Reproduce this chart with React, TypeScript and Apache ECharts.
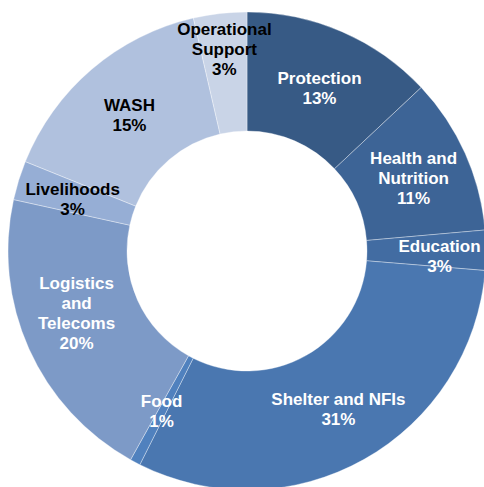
import React, { useEffect, useRef } from "react";
import * as echarts from "echarts";

const categories = [
  "Protection",
  "Health and\nNutrition",
  "Education",
  "Shelter and NFIs",
  "Food",
  "Logistics\nand\nTelecoms",
  "Livelihoods",
  "WASH",
  "Operational\nSupport",
];
// shares
const values = [13.0, 10.6, 2.7, 31.1, 0.7, 20.35, 2.65, 15.3, 3.6];
// percentages as printed on the labels
const percentLabels = ["13%", "11%", "3%", "31%", "1%", "20%", "3%", "15%", "3%"];
const colors = [
  "#375A85",
  "#3D6496",
  "#426CA2",
  "#4A77B0",
  "#5081BE",
  "#7D9AC7",
  "#96AED5",
  "#B0C1DE",
  "#C9D4E7",
];
const labelColors = ["#fff", "#fff", "#fff", "#fff", "#fff", "#fff", "#000", "#000", "#000"];
const labelDx = [0, 0, 10, 2, 0, -4, 0, 1, -2];
const labelDy = [5, 2, 6, -1, -1, -12, 2, 3, -20];

export default function App() {
  const ref = useRef<HTMLDivElement>(null);
  useEffect(() => {
    if (!ref.current) return;
    const chart = echarts.init(ref.current, null, { renderer: "svg" });
    chart.setOption({
      animation: false,
      backgroundColor: "#fff",
      series: [
        {
          type: "pie",
          center: [247, 251],
          radius: [120, 239],
          startAngle: 90,
          clockwise: true,
          avoidLabelOverlap: false,
          itemStyle: { borderColor: "rgba(255,255,255,0.35)", borderWidth: 1 },
          label: {
            show: true,
            position: "inside",
            formatter: (p: any) => `${p.name}\n${percentLabels[p.dataIndex]}`,
            fontFamily: "Liberation Sans, Arial, sans-serif",
            fontWeight: "bold",
            fontSize: 17,
            lineHeight: 20,
            align: "center",
          },
          labelLine: { show: false },
          emphasis: { disabled: true },
          labelLayout: (params: any) => ({
            dx: labelDx[params.dataIndex],
            dy: labelDy[params.dataIndex],
          }),
          data: categories.map((name, i) => ({
            name,
            value: values[i],
            itemStyle: { color: colors[i] },
            label: { color: labelColors[i] },
          })),
        },
      ],
    });
    return () => chart.dispose();
  }, []);
  return (
    <div
      ref={ref}
      style={{ position: "absolute", left: 0, top: 0, width: 484, height: 487 }}
    />
  );
}
